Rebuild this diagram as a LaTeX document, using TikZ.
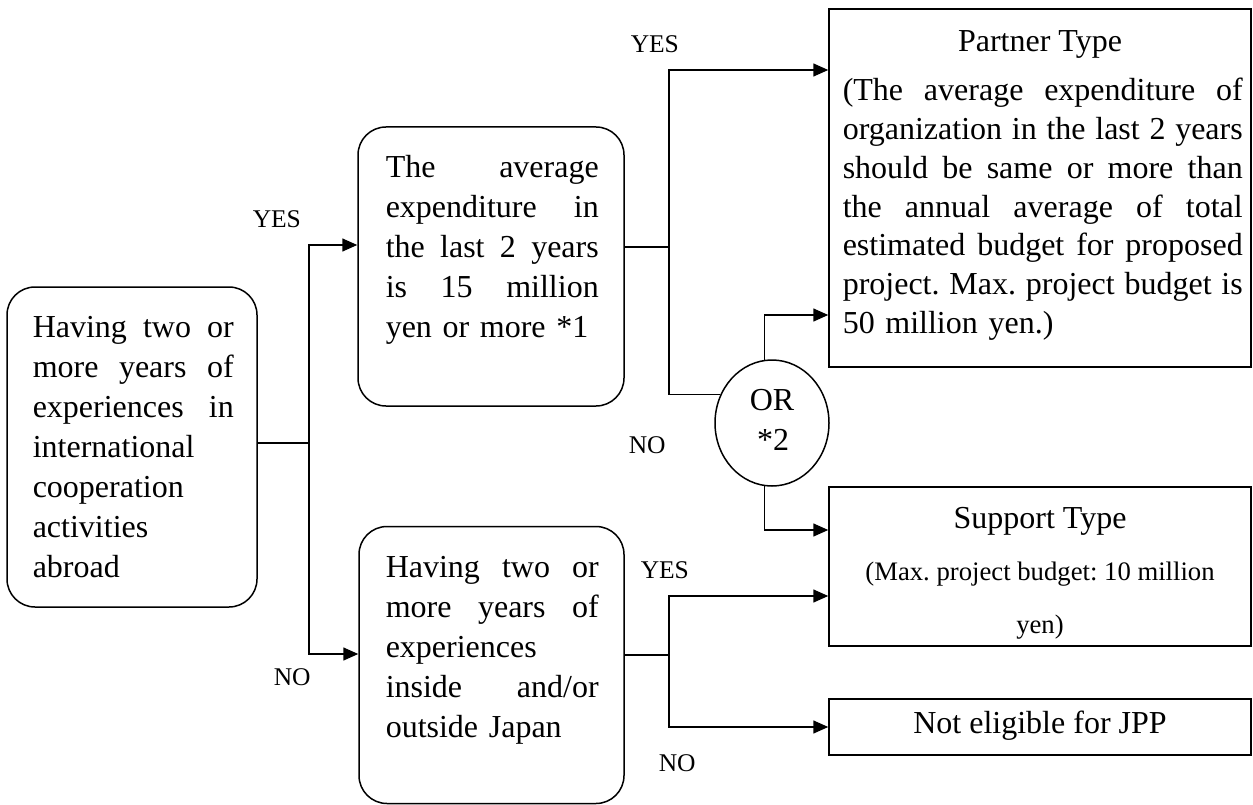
\documentclass[tikz,border=0pt]{standalone}
\usepackage{fontspec}
\setmainfont{Liberation Serif}
\usetikzlibrary{arrows.meta,shapes.geometric}
% one justified line (words spread to the given width) / one plain line
\newcommand\jl[2]{\noindent\hbox to #1{\strut#2}\par}
\newcommand\pl[1]{\noindent\strut#1\par}
\frenchspacing

\begin{document}
\begin{tikzpicture}[x=1pt,y=-1pt,
  line width=1.5pt,
  rbox/.style={draw, rounded corners=28pt, inner sep=0pt},
  sbox/.style={draw, inner sep=0pt, minimum width=422pt},
  oval/.style={draw, ellipse, inner sep=0pt, minimum width=114pt, minimum height=126pt},
  body/.style={inner sep=0pt, anchor=north west, font=\fontsize{32}{40}\selectfont},
  line/.style={inner sep=0pt, anchor=base, font=\fontsize{32}{40}\selectfont},
  small/.style={inner sep=0pt, anchor=base, font=\fontsize{26.7}{32}\selectfont},
  tag/.style={inner sep=0pt, anchor=base west, font=\fontsize{25.5}{30}\selectfont},
  arr/.style={-{Triangle[length=15pt,width=13pt]}},
]
\useasboundingbox (0,0) rectangle (1253,805);

% decision boxes
\node[rbox, minimum width=250pt, minimum height=320pt] (b1) at (132,447) {};
\node[rbox, minimum width=266pt, minimum height=279pt] (b2) at (491,266.5) {};
\node[rbox, minimum width=265pt, minimum height=277pt] (b3) at (491.5,665) {};

\node[body, text width=201pt] (t1) at (32,309) {%
  \jl{201pt}{Having\hfill two\hfill or}%
  \jl{201pt}{more\hfill years\hfill of}%
  \jl{201pt}{experiences\hfill in}%
  \pl{international}\pl{cooperation}\pl{activities}\pl{abroad}};
\node[body, text width=213pt] (t2) at (385,149) {%
  \jl{213pt}{The\hfill average}%
  \jl{213pt}{expenditure\hfill in}%
  \jl{213pt}{the\hfill last\hfill 2\hfill years}%
  \jl{213pt}{is\hfill 15\hfill million}%
  \pl{yen or more *1}};
\node[body, text width=213pt] (t3) at (385,549) {%
  \jl{213pt}{Having\hfill two\hfill or}%
  \jl{213pt}{more\hfill years\hfill of}%
  \pl{experiences}%
  \jl{213pt}{inside\hfill and/or}%
  \pl{outside Japan}};

% outcome boxes
\node[sbox, minimum height=358pt] (partner) at (1040,188) {};
\node[sbox, minimum height=159pt] (support) at (1040,566.5) {};
\node[sbox, minimum height=56pt] (notel) at (1040,727) {};
\node[oval] (orn) at (772,423) {};

\node[line] (ptitle) at (1040,52) {Partner Type};
\node[body, text width=400pt, font=\fontsize{32}{38.8}\selectfont] (ptext) at (842,72.84) {%
  \jl{400pt}{(The\hfill average\hfill expenditure\hfill of}%
  \jl{400pt}{organization\hfill in\hfill the\hfill last\hfill 2\hfill years}%
  \jl{400pt}{should\hfill be\hfill same\hfill or\hfill more\hfill than}%
  \jl{400pt}{the\hfill annual\hfill average\hfill of\hfill total}%
  \jl{400pt}{estimated\hfill budget\hfill for\hfill proposed}%
  \jl{400pt}{project.\hfill Max.\hfill project\hfill budget\hfill is}%
  \pl{50 million yen.)}};
\node[line] (stitle) at (1040,528) {Support Type};
\node[small] (stext1) at (1040,580) {(Max. project budget: 10 million};
\node[small] (stext2) at (1040,633) {yen)};
\node[line] (ntext) at (1040,733) {Not eligible for JPP};
\node[line] (or1) at (772,410) {OR};
\node[line] (or2) at (773,450) {*2};

% branch labels
\node[tag] (yes1) at (252,228) {YES};
\node[tag] (no1) at (273,685) {NO};
\node[tag] (yes2) at (630,53) {YES};
\node[tag] (no2) at (628,453) {NO};
\node[tag] (yes3) at (640,578) {YES};
\node[tag] (no3) at (658,771) {NO};

% connectors
\coordinate (j1) at (309,443);
\coordinate (ya) at (0,245);
\coordinate (yb) at (0,654);
\draw (b1.east |- j1) -- (j1);
\draw[arr] (j1) |- (b2.west |- ya);
\draw[arr] (j1) |- (b3.west |- yb);

\coordinate (j2) at (669,247);
\coordinate (yc) at (0,70);
\draw (b2.east |- j2) -- (j2);
\draw[arr] (j2) |- (partner.west |- yc);
\draw (j2) |- (orn.151);

\coordinate (ye) at (0,315);
\coordinate (yf) at (0,530);
\draw[arr] (orn.97) |- (partner.west |- ye);
\draw[arr] (orn.263) |- (support.west |- yf);

\coordinate (j3) at (669,655);
\coordinate (yg) at (0,596);
\draw (b3.east |- j3) -- (j3);
\draw[arr] (j3) |- (support.west |- yg);
\draw[arr] (j3) |- (notel.west);
\end{tikzpicture}
\end{document}
